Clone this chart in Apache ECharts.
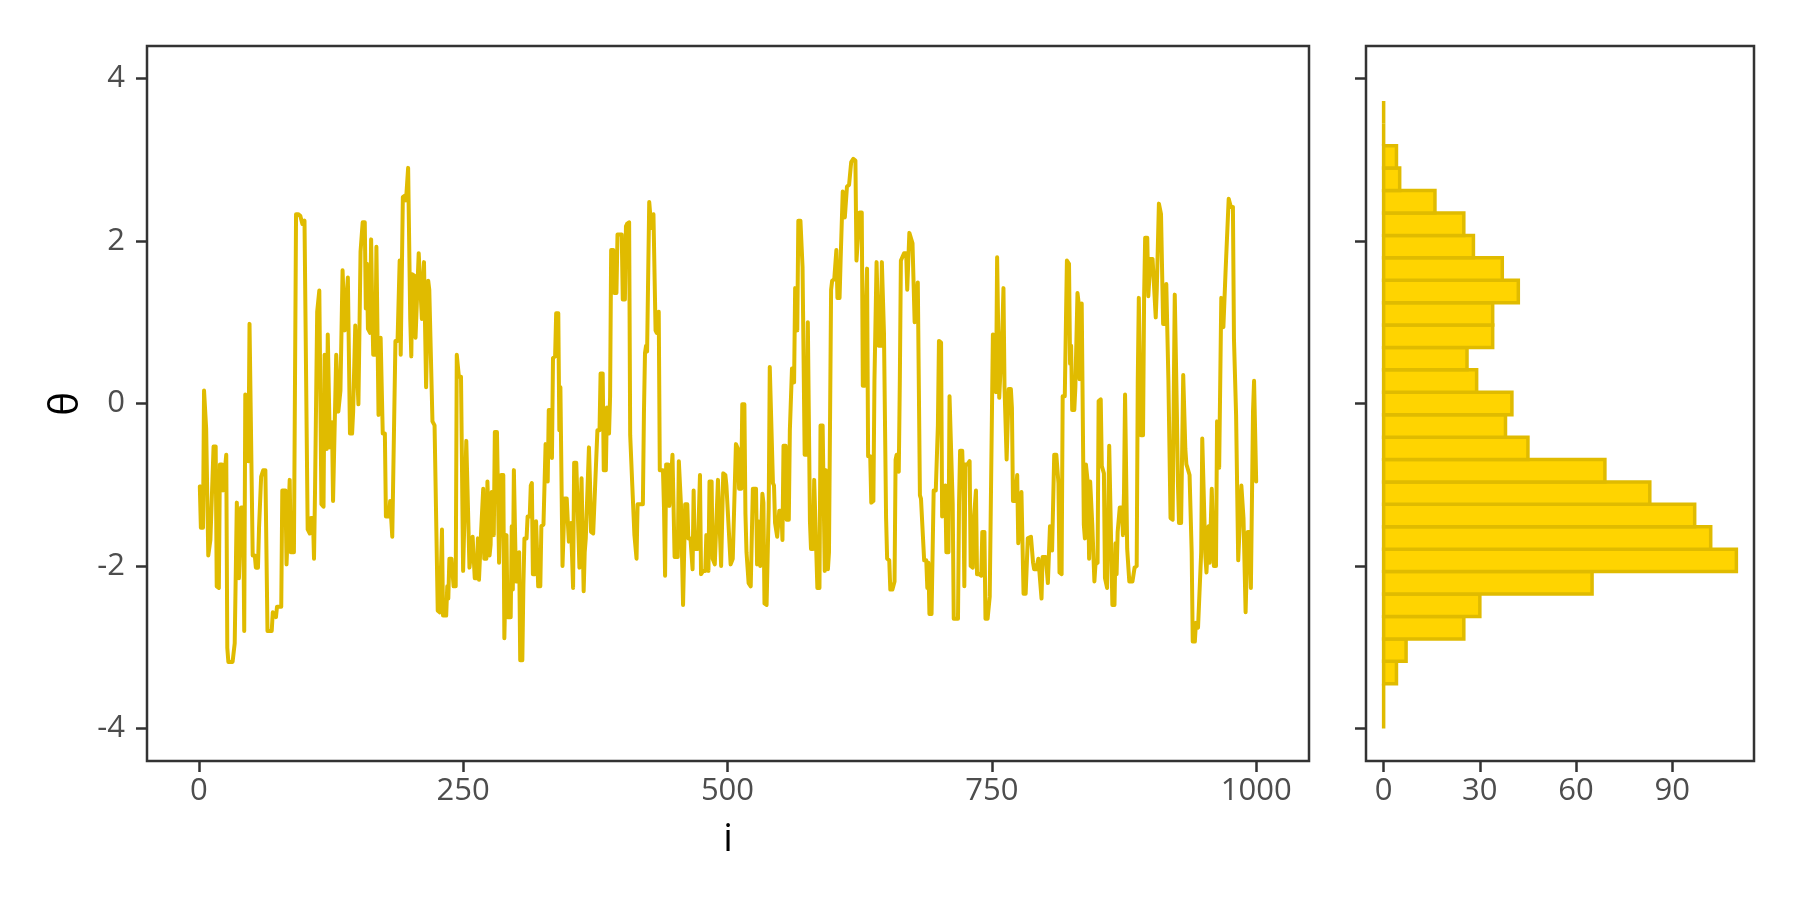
<!DOCTYPE html>
<html><head><meta charset="utf-8">
<script src="https://cdn.jsdelivr.net/npm/echarts@6/dist/echarts.min.js"></script>
<style>html,body{margin:0;padding:0;background:#fff}#c{width:1800px;height:900px}</style>
</head><body><div id="c"></div>
<script>
// trace: [iteration i, theta]
const thetaTrace = [
[1,-1.02],[2,-1.53],[4,-1.53],[5,0.16],[7,-0.31],[9,-1.87],[11,-1.68],[14,-0.53],[16,-0.53],[17,-2.25],[19,-2.27],[20,-0.75],[22,-0.75],[23,-1.07],[24,-1.07],[26,-0.63],[27,-3.01],[28,-3.18],[32,-3.18],[34,-2.95],[36,-1.22],[38,-2.15],[39,-2.15],[40,-1.28],[42,-1.28],[43,-2.80],[44,0.11],[45,0.11],[47,-0.71],[48,0.98],[49,0.96],[51,-1.87],[53,-1.87],[54,-2.02],[56,-2.02],[57,-1.53],[59,-0.90],[61,-0.82],[63,-0.82],[65,-2.80],[69,-2.80],[70,-2.57],[73,-2.63],[74,-2.50],[78,-2.50],[79,-1.07],[82,-1.07],[83,-1.98],[84,-1.98],[86,-0.94],[87,-1.83],[90,-1.83],[92,2.33],[94,2.33],[96,2.31],[98,2.21],[100,2.25],[103,-1.55],[105,-1.60],[106,-1.41],[108,-1.41],[109,-1.91],[110,-1.03],[112,1.13],[114,1.39],[116,-1.24],[118,-1.27],[119,0.60],[121,-0.56],[122,0.85],[124,-0.54],[125,-0.56],[126,-0.23],[127,-1.20],[128,-1.20],[130,0.60],[131,0.60],[132,-0.10],
[134,0.16],[135,0.18],[136,1.64],[138,0.90],[139,0.92],[141,1.55],[142,1.55],[143,-0.37],[145,-0.37],[146,-0.10],[148,0.96],[149,0.96],[151,-0.01],[152,-0.03],[153,1.87],[155,2.23],[157,2.23],[158,1.17],[159,1.72],[160,0.92],[162,0.87],[163,2.02],[164,1.21],[165,0.60],[167,0.60],[168,1.93],[170,-0.14],[171,-0.14],[172,0.81],[174,-0.37],[176,-0.37],[177,-1.39],[180,-1.39],[181,-1.20],[182,-1.20],[183,-1.64],[186,0.77],[188,0.77],[190,1.76],[191,0.60],[193,2.54],[195,2.56],[196,2.50],[198,2.90],[200,1.04],[201,0.58],[202,1.59],[204,1.57],[205,0.81],[206,0.81],[208,1.85],[209,1.85],[211,1.04],[212,1.02],[213,1.74],[214,1.72],[215,0.20],[217,1.51],[218,1.40],[219,1.38],[221,-0.22],[223,-0.27],[226,-2.55],[228,-2.57],[230,-1.55],[231,-2.61],[234,-2.61],[235,-2.25],[236,-2.40],[237,-1.91],[239,-1.91],[241,-2.25],[243,-2.25],[244,0.60],[246,0.33],[248,0.33],[250,-2.06],[251,-2.06],
[253,-0.46],[254,-0.46],[256,-2.02],[257,-2.02],[259,-1.64],[260,-1.64],[261,-2.15],[263,-2.15],[264,-1.66],[265,-2.17],[266,-2.19],[267,-1.58],[268,-1.58],[269,-1.05],[270,-1.91],[272,-1.91],[273,-0.96],[274,-0.98],[275,-1.87],[276,-1.74],[277,-1.09],[279,-1.62],[280,-0.35],[282,-0.35],[284,-1.96],[285,-1.98],[286,-0.88],[288,-0.88],[289,-2.89],[290,-2.89],[291,-1.62],[292,-2.63],[295,-2.63],[296,-1.51],[297,-2.29],[298,-0.82],[299,-0.82],[300,-2.19],[302,-2.19],[303,-1.83],[304,-3.16],[306,-3.16],[307,-2.23],[308,-1.66],[310,-1.66],[311,-1.39],[313,-1.39],[314,-1.01],[315,-0.98],[316,-2.10],[318,-2.10],[319,-1.45],[320,-1.47],[321,-2.25],[323,-2.25],[324,-1.51],[326,-1.49],[328,-0.50],[329,-0.50],[330,-0.96],[331,-0.08],[333,-0.08],[334,-0.67],[335,0.56],[337,0.58],[338,1.11],[340,1.11],[341,-0.33],[342,0.20],[343,0.22],[344,-2.00],[345,-2.02],[346,-1.17],[348,-1.17],[349,-1.45],[350,-1.70],[351,-1.70],[352,-1.47],[354,-2.27],[355,-0.73],[357,-0.73],[358,-1.15],[360,-2.02],[361,-2.02],[362,-0.92],[364,-2.31],[365,-1.83],[366,-1.66],[367,-1.66],[369,-0.54],[370,-0.98],[371,-1.58],[373,-1.60],[374,-1.62],
[377,-0.33],[379,-0.33],[380,0.37],[382,0.37],[383,-0.82],[385,-0.82],[386,-0.05],[388,-0.37],[389,0.09],[390,1.89],[392,1.89],[393,1.36],[395,1.36],[396,2.08],[398,2.08],[400,2.08],[401,1.28],[403,1.28],[404,2.18],[405,2.21],[407,2.23],[408,-0.39],[409,-0.39],[410,-1.01],[411,-1.01],[412,-1.62],[414,-1.91],[415,-1.24],[418,-1.24],[420,-1.24],[421,-0.12],[422,0.62],[423,0.71],[424,0.64],[426,2.48],[427,2.48],[428,2.16],[430,2.33],[431,2.33],[432,0.90],[433,0.87],[435,1.13],[436,-0.82],[439,-0.82],[440,-1.30],[441,-2.12],[442,-0.75],[444,-0.75],[445,-1.26],[446,-1.28],[448,-0.63],[450,-1.89],[453,-1.89],[454,-0.71],[455,-0.71],[456,-1.24],[458,-2.48],[460,-1.24],[462,-1.24],[463,-1.66],[465,-1.66],[467,-2.04],[468,-1.07],[469,-1.79],[472,-1.79],[474,-0.88],[475,-2.10],[477,-2.06],[479,-2.06],[480,-1.62],[482,-2.06],[483,-0.96],[485,-0.96],[486,-1.91],[488,-1.98],[489,-2.00],[491,-0.94],[492,-0.94],[494,-2.00],[496,-0.86],[498,-0.88],[499,-1.01],
[503,-1.98],[505,-1.91],[506,-1.91],[508,-0.50],[510,-0.56],[511,-1.05],[513,-1.05],[514,-0.01],[516,-0.01],[517,-1.36],[518,-1.83],[520,-2.21],[522,-2.25],[523,-2.27],[524,-1.05],[527,-1.05],[528,-1.98],[529,-1.45],[531,-2.00],[533,-1.11],[534,-1.22],[535,-2.46],[537,-2.48],[539,-1.28],[540,0.45],[541,0.45],[543,-0.98],[544,-1.01],[545,-1.47],[547,-1.64],[548,-1.64],[549,-1.32],[551,-1.32],[552,-1.68],[553,-0.52],[555,-0.52],[556,-1.43],[558,-1.43],[559,-0.33],[560,-0.33],[561,0.43],[563,0.26],[564,1.42],[566,0.90],[567,2.25],[569,2.25],[571,1.68],[572,1.68],[573,-0.63],[575,-0.63],[576,1.00],[577,1.00],[578,-1.45],[579,-1.79],[581,-1.79],[582,-0.94],[583,-0.94],[585,-2.27],[587,-2.27],[588,-0.27],[590,-0.27],[592,-2.06],[593,-0.82],[595,-2.04],[596,-1.83],[598,1.40],[599,1.51],[601,1.53],[603,1.89],[604,1.30],[606,1.30],[607,1.76],[609,2.61],[610,2.61],[611,2.29],[613,2.67],[615,2.69],[616,2.71],[617,2.97],[619,3.01],[621,2.99],[622,1.76],[623,1.76],[625,2.35],[627,2.35],
[628,0.22],[630,0.22],[631,1.21],[632,1.66],[633,-0.65],[635,-0.65],[636,-1.22],[638,-1.20],[639,0.28],[641,1.74],[642,1.74],[643,0.71],[645,0.71],[646,1.74],[647,1.72],[648,0.87],[650,-1.41],[651,-1.91],[653,-1.93],[654,-2.29],[656,-2.29],[658,-2.19],[659,-0.69],[660,-0.63],[662,-0.84],[663,0.28],[664,1.76],[665,1.78],[667,1.85],[669,1.85],[670,1.40],[672,2.10],[673,2.10],[675,1.97],[677,1.00],[678,0.98],[680,1.49],[681,1.49],[682,-1.13],[683,-1.17],[684,-1.17],[686,-1.93],[688,-1.93],[689,-2.27],[690,-1.96],[691,-2.59],[693,-2.59],[694,-1.83],[695,-1.07],[697,-1.07],[699,-0.27],[700,0.77],[702,0.75],[703,-1.39],[704,-1.39],[706,-1.01],[707,-1.83],[709,-1.83],[710,0.09],[711,0.09],[713,-1.24],[714,-2.65],[716,-2.65],[718,-2.65],[719,-1.22],[720,-0.58],[722,-0.58],[723,-0.98],[724,-2.25],[725,-0.75],[727,-0.75],[729,-0.71],[730,-2.00],[732,-2.02],[733,-1.43],[735,-1.07],[736,-2.10],[738,-2.10],[740,-2.12],[741,-1.58],[743,-1.58],[744,-2.65],[746,-2.65],[748,-2.38],[749,-2.38],[751,0.85],
[753,0.83],[754,0.14],[755,1.80],[756,1.80],[757,0.07],[758,0.07],[760,0.92],[761,1.42],[762,0.20],[764,-0.69],[765,-0.69],[766,0.18],[768,0.18],[769,-0.05],[770,-1.20],[772,-1.20],[774,-0.88],[775,-1.72],[776,-1.72],[778,-1.09],[779,-1.09],[780,-2.34],[782,-2.34],[784,-1.66],[785,-1.64],[787,-1.64],[789,-1.96],[790,-2.04],[792,-2.04],[794,-1.91],[797,-2.40],[798,-1.89],[799,-1.89],[801,-1.89],[803,-2.21],[805,-1.51],[807,-1.81],[808,-1.81],[809,-0.63],[811,-0.63],[813,-0.98],[814,-2.08],[816,-2.10],[817,0.09],[819,0.09],[821,1.76],[823,1.72],[824,0.49],[825,0.71],[826,-0.08],[828,-0.08],[829,0.20],[831,1.36],[832,1.25],[833,0.30],[835,1.23],[837,-1.49],[838,-1.66],[839,-0.75],[841,-1.01],[842,-1.91],[843,-0.96],[845,-1.49],[847,-2.19],[848,-1.98],[850,-1.96],[851,0.03],[853,0.05],[854,-0.77],[856,-0.86],[857,-2.15],[859,-2.27],[860,-2.25],[861,-0.52],[862,-0.52],[864,-2.48],[866,-2.48],[867,-1.72],[868,-2.10],[869,-1.58],[871,-1.28],[873,-1.28],[874,-1.62],[875,-1.09],[876,0.11],[877,0.11],
[878,-1.79],[880,-2.19],[883,-2.19],[885,-2.02],[887,-2.00],[888,0.26],[889,1.30],[891,-0.39],[893,-0.39],[894,1.30],[895,2.04],[897,2.04],[898,1.32],[900,1.78],[902,1.78],[903,1.80],[905,1.06],[906,1.40],[908,2.46],[910,2.33],[911,2.31],[912,0.98],[914,0.98],[915,1.47],[916,1.47],[917,0.28],[919,-1.41],[921,-1.43],[922,0.03],[923,1.34],[925,-0.12],[926,-0.98],[927,-1.47],[929,-1.47],[930,-0.56],[931,0.35],[933,-0.56],[934,-0.75],[935,-0.79],[937,-0.88],[939,-1.83],[940,-2.93],[942,-2.93],[943,-2.70],[945,-2.76],[946,-2.76],[948,-1.83],[949,-0.43],[950,-0.43],[952,-1.89],[953,-2.08],[955,-1.51],[956,-1.96],[958,-1.05],[959,-1.05],[960,-2.00],[962,-2.00],[963,-0.22],[964,-0.22],[965,-0.79],[967,1.30],[968,1.28],[969,0.94],[971,1.61],[972,1.61],[974,2.52],[976,2.42],[978,2.42],[979,0.79],[981,-0.14],[983,-1.93],[984,-1.93],[986,-1.01],[987,-1.01],[988,-1.41],[990,-2.57],[991,-2.57],[992,-1.58],[994,-1.58],[995,-2.27],[996,-2.25],[997,-0.10],[998,0.28],[999,0.28],[1000,-0.96]
];

// histogram of theta: bin edges and counts (bottom to top)
const binEdges = [-4.000,-3.724,-3.448,-3.172,-2.897,-2.621,-2.345,-2.069,-1.793,-1.517,-1.241,-0.966,-0.690,-0.414,-0.138,0.138,0.414,0.690,0.966,1.241,1.517,1.793,2.069,2.345,2.621,2.897,3.172,3.448,3.724];
const binCounts = [0,0,4,7,25,30,65,110,102,97,83,69,45,38,40,29,26,34,34,42,37,28,25,16,5,4,0,0];

const iTicks = [0,250,500,750,1000];
const thetaTicks = [-4,-2,0,2,4];
const countTicks = [0,30,60,90];

const FONT = '"Open Sans", "Noto Sans", sans-serif';
const LINE = '#E0BB00';
const FILL = '#FFD400';
const AX = '#333333';
const LAB = '#4D4D4D';

const histData = binCounts.map((c, k) => [binEdges[k], binEdges[k + 1], c]);

const tick = (vals) => ({show: true, length: 11, lineStyle: {color: AX, width: 2.5}, customValues: vals});
const lab = (vals, margin, show) => ({show: show, customValues: vals, fontSize: 31, color: LAB, fontFamily: FONT, margin: margin, formatter: (v) => String(v)});

const chart = echarts.init(document.getElementById('c'));
chart.setOption({
  animation: false,
  backgroundColor: '#ffffff',
  grid: [
    {left: 147, top: 46, width: 1162, height: 715, show: true, borderColor: AX, borderWidth: 2.5, backgroundColor: 'transparent'},
    {left: 1366, top: 46, width: 388, height: 715, show: true, borderColor: AX, borderWidth: 2.5, backgroundColor: 'transparent'}
  ],
  xAxis: [
    {type: 'value', gridIndex: 0, min: -48.95, max: 1049.95, axisLine: {show: false, onZero: false}, splitLine: {show: false}, axisTick: tick(iTicks), axisLabel: lab(iTicks, 15, true)},
    {type: 'value', gridIndex: 1, min: -5.5, max: 115.5, axisLine: {show: false, onZero: false}, splitLine: {show: false}, axisTick: tick(countTicks), axisLabel: lab(countTicks, 15, true)}
  ],
  yAxis: [
    {type: 'value', gridIndex: 0, min: -4.4, max: 4.4, axisLine: {show: false, onZero: false}, splitLine: {show: false}, axisTick: tick(thetaTicks), axisLabel: lab(thetaTicks, 22, true)},
    {type: 'value', gridIndex: 1, min: -4.4, max: 4.4, axisLine: {show: false, onZero: false}, splitLine: {show: false}, axisTick: tick(thetaTicks), axisLabel: lab(thetaTicks, 22, false)}
  ],
  graphic: [
    {type: 'text', x: 728, y: 840, style: {text: 'i', fontSize: 38, fontFamily: FONT, fill: '#000', align: 'center', verticalAlign: 'middle'}},
    {type: 'text', x: 67, y: 404, rotation: Math.PI / 2, style: {text: 'θ', fontSize: 40, fontFamily: FONT, fill: '#000', align: 'center', verticalAlign: 'middle'}}
  ],
  series: [
    {
      type: 'line', xAxisIndex: 0, yAxisIndex: 0, data: thetaTrace,
      showSymbol: false, symbol: 'none', clip: true,
      lineStyle: {color: LINE, width: 4, join: 'round', cap: 'round'}
    },
    {
      type: 'custom', xAxisIndex: 1, yAxisIndex: 1, data: histData,
      encode: {x: 2, y: [0, 1]}, clip: true,
      renderItem: function (params, api) {
        const lo = api.value(0), hi = api.value(1), c = api.value(2);
        const a = api.coord([0, lo]);
        const b = api.coord([c, hi]);
        return {
          type: 'rect',
          shape: {x: a[0], y: b[1], width: b[0] - a[0], height: a[1] - b[1]},
          style: {fill: FILL, stroke: LINE, lineWidth: 3.5}
        };
      }
    }
  ]
});
</script>
</body></html>
